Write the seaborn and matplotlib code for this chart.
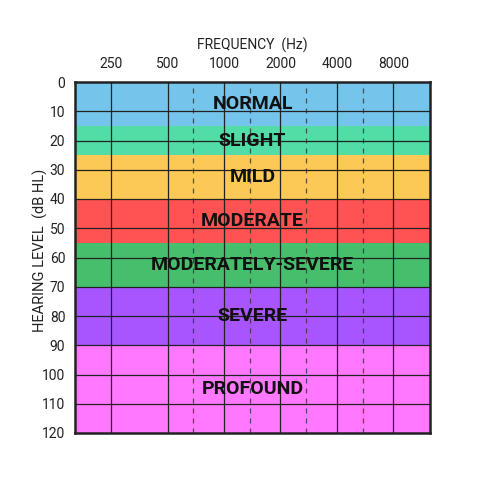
import numpy as np
import matplotlib
matplotlib.use('Agg')
import matplotlib.pyplot as plt
import seaborn as sns

# hearing loss bands (dB HL)
band_names = ['NORMAL', 'SLIGHT', 'MILD', 'MODERATE', 'MODERATELY-SEVERE', 'SEVERE', 'PROFOUND']
band_low = [0, 15, 25, 40, 55, 70, 90]
band_high = [15, 25, 40, 55, 70, 90, 120]
band_colors = ['#74C4EC', '#52DDA6', '#FCC856', '#FF5252', '#46BE6C', '#A855FF', '#FF78FF']

freqs = [250, 500, 1000, 2000, 4000, 8000]
db_ticks = list(range(0, 130, 10))

sns.set_style('white')
plt.rcParams['font.family'] = ['Roboto', 'DejaVu Sans']

fig = plt.figure(figsize=(5, 5), dpi=100)
ax = fig.add_axes([0.15, 0.134, 0.71, 0.702])

for lo, hi, c in zip(band_low, band_high, band_colors):
    ax.axhspan(lo, hi, color=c, lw=0, zorder=0)

ax.set_xscale('log', base=2)
ax.set_xlim(250 / 2 ** 0.64, 8000 * 2 ** 0.65)
ax.set_ylim(120, 0)

# solid lines at octaves, dashed lines half way between them
for f in freqs:
    ax.axvline(f, color='#222222', lw=0.9, zorder=1)
for a, b in zip(freqs[1:-1], freqs[2:]):
    ax.axvline(np.sqrt(a * b) * 0.97, color='#333333', lw=0.9, ls=(0, (4, 4)), alpha=0.8, zorder=1)
for d in db_ticks[1:-1]:
    ax.axhline(d, color='#222222', lw=0.9, zorder=1)

xmid = np.sqrt(ax.get_xlim()[0] * ax.get_xlim()[1])
for name, lo, hi in zip(band_names, band_low, band_high):
    ax.text(xmid, (lo + hi) / 2, name, ha='center', va='center',
            fontsize=14, fontweight='bold', color='#111111', zorder=3)

ax.xaxis.tick_top()
ax.xaxis.set_label_position('top')
ax.set_xticks(freqs)
ax.set_xticklabels([str(f) for f in freqs])
ax.xaxis.set_minor_locator(matplotlib.ticker.NullLocator())
ax.set_yticks(db_ticks)
ax.tick_params(axis='x', length=0, labelsize=10, pad=8, colors='#222222')
ax.tick_params(axis='y', length=0, labelsize=10, pad=7, colors='#222222')

ax.set_xlabel('FREQUENCY  (Hz)', fontsize=10, labelpad=5, color='#222222')
ax.set_ylabel('HEARING LEVEL  (dB HL)', fontsize=10.5, color='#222222')
ax.yaxis.set_label_coords(-0.075, 0.52)

for s in ax.spines.values():
    s.set_visible(True)
    s.set_color('#222222')
    s.set_linewidth(1.8)

fig.savefig('out.png', dpi=100)
